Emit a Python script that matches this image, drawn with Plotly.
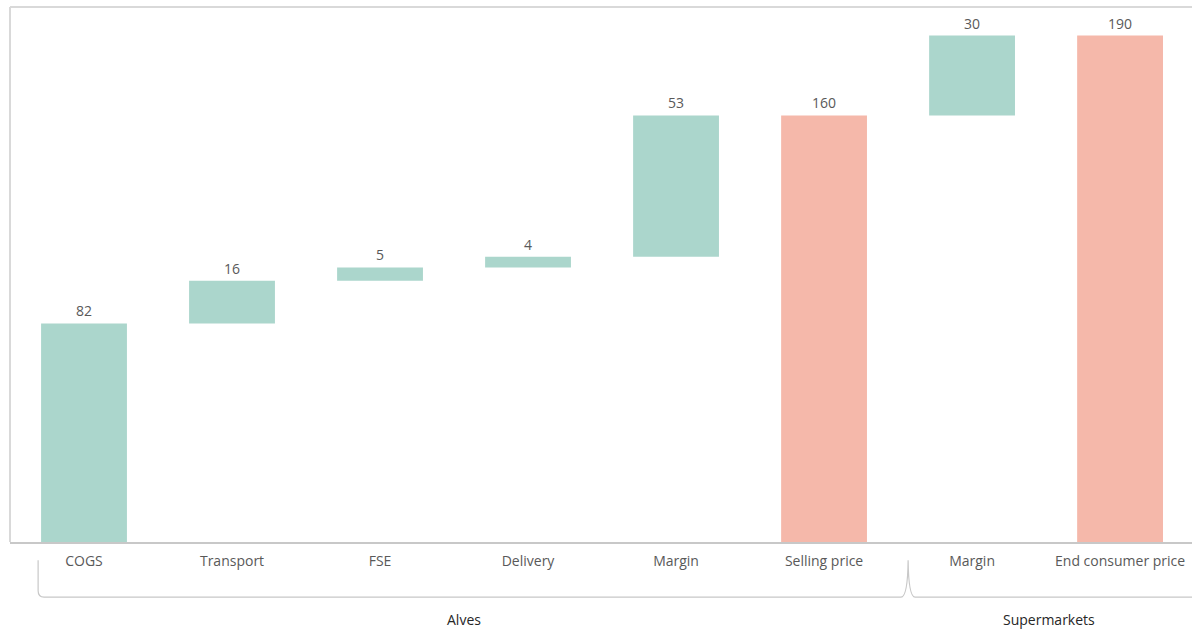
import plotly.graph_objects as go

# Cost build-up of the product, from production cost to end consumer price
categories = ["COGS", "Transport", "FSE", "Delivery", "Margin",
              "Selling price", "Margin", "End consumer price"]
values = [82, 16, 5, 4, 53, 160, 30, 190]
measures = ["relative", "relative", "relative", "relative", "relative",
            "total", "relative", "total"]
groups = ["Alves", "Supermarkets"]

TEAL = "#abd6cc"
SALMON = "#f5b8aa"
TEXT = "#595959"
FONT = "Open Sans"
SIZE = 14

positions = list(range(len(categories)))

fig = go.Figure(go.Waterfall(
    x=positions,
    y=values,
    measure=measures,
    text=[str(v) for v in values],
    textposition="outside",
    textfont=dict(family=FONT, size=SIZE, color=TEXT),
    increasing=dict(marker=dict(color=TEAL)),
    decreasing=dict(marker=dict(color=TEAL)),
    totals=dict(marker=dict(color=SALMON)),
    connector=dict(visible=False),
    width=0.58,
    cliponaxis=False,
    hoverinfo="skip",
))

# Plot frame: light border on top and left, axis line at the bottom
fig.add_shape(type="line", xref="paper", yref="paper", x0=0, x1=1, y0=1, y1=1,
              line=dict(color="#d9d9d9", width=2))
fig.add_shape(type="line", xref="paper", yref="paper", x0=0, x1=0, y0=0, y1=1,
              line=dict(color="#d9d9d9", width=2))

# Group brackets under the category labels
y_top, y_bot = -0.034, -0.103
bracket = (
    f"M -0.31,{y_top} L -0.31,{y_bot + 0.012} Q -0.31,{y_bot} -0.27,{y_bot} "
    f"L 5.52,{y_bot} Q 5.565,{y_bot} 5.568,{y_top} "
    f"Q 5.571,{y_bot} 5.615,{y_bot} L 7.6,{y_bot}"
)
fig.add_shape(type="path", xref="x", yref="paper", path=bracket,
              line=dict(color="#c8c8c8", width=1.2))

group_x = [2.57, 6.52]
for name, gx in zip(groups, group_x):
    fig.add_annotation(x=gx, y=-0.144, xref="x", yref="paper", text=name,
                       showarrow=False, yanchor="middle",
                       font=dict(family=FONT, size=SIZE, color="#262626"))

fig.update_layout(
    width=1192, height=630,
    margin=dict(l=10, r=0, t=7, b=88),
    paper_bgcolor="white", plot_bgcolor="white",
    showlegend=False,
    font=dict(family=FONT, size=SIZE, color=TEXT),
    xaxis=dict(
        range=[-0.5, 7.486],
        tickmode="array", tickvals=positions, ticktext=categories,
        ticks="outside", ticklen=5, tickcolor="rgba(0,0,0,0)",
        tickfont=dict(family=FONT, size=SIZE, color=TEXT),
        showgrid=False, zeroline=False,
        showline=True, linecolor="#c8c8c8", linewidth=2,
    ),
    yaxis=dict(
        range=[0, 200.7],
        showticklabels=False, showgrid=False, zeroline=False, showline=False,
    ),
)

fig.write_html("out.html")
